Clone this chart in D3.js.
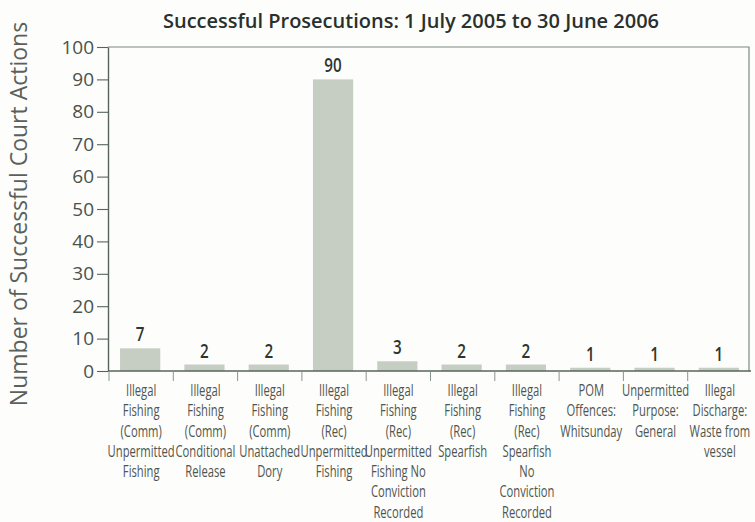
<!DOCTYPE html>
<html>
<head>
<meta charset="utf-8">
<script src="https://cdn.jsdelivr.net/npm/d3@7"></script>
<style>
  html, body { margin: 0; padding: 0; background: #fdfdfc; }
  svg { display: block; }
</style>
</head>
<body>
<svg id="chart" width="755" height="522"></svg>
<script>
// Prosecution categories (each label split into its display lines)
const categories = [
  ["Illegal", "Fishing", "(Comm)", "Unpermitted", "Fishing"],
  ["Illegal", "Fishing", "(Comm)", "Conditional", "Release"],
  ["Illegal", "Fishing", "(Comm)", "Unattached", "Dory"],
  ["Illegal", "Fishing", "(Rec)", "Unpermitted", "Fishing"],
  ["Illegal", "Fishing", "(Rec)", "Unpermitted", "Fishing No", "Conviction", "Recorded"],
  ["Illegal", "Fishing", "(Rec)", "Spearfish"],
  ["Illegal", "Fishing", "(Rec)", "Spearfish", "No", "Conviction", "Recorded"],
  ["POM", "Offences:", "Whitsunday"],
  ["Unpermitted", "Purpose:", "General"],
  ["Illegal", "Discharge:", "Waste from", "vessel"]
];
const counts = [7, 2, 2, 90, 3, 2, 2, 1, 1, 1];
const yTicks = [0, 10, 20, 30, 40, 50, 60, 70, 80, 90, 100];

const titleText = "Successful Prosecutions: 1 July 2005 to 30 June 2006";
const yTitleText = "Number of Successful Court Actions";

const svg = d3.select("#chart");
const plot = { left: 108, right: 751, top: 47, bottom: 371 };

const ids = d3.range(categories.length);
const x = d3.scaleBand().domain(ids).range([plot.left, plot.right])
  .paddingInner(0.375).paddingOuter(0.1875);
const xTick = d3.scaleBand().domain(ids).range([plot.left, plot.right]);
const y = d3.scaleLinear().domain([0, 100]).range([plot.bottom, plot.top]);

const axisColor = "#56645a";
const narrow = 0.66; // horizontal squeeze for the condensed label face

// plot frame (top and right edges)
svg.append("path")
  .attr("d", `M${plot.left},${plot.top}H${plot.right - 2}V${plot.bottom}`)
  .attr("fill", "none").attr("stroke", "#7d8a80").attr("stroke-width", 1.2);

// bars
svg.append("g").selectAll("rect").data(counts).join("rect")
  .attr("x", (d, i) => x(i))
  .attr("width", x.bandwidth())
  .attr("y", d => y(d))
  .attr("height", d => y(0) - y(d))
  .attr("fill", "#c6cec3");

// value labels
svg.append("g").selectAll("text").data(counts).join("text")
  .attr("transform", (d, i) =>
    `translate(${x(i) + x.bandwidth() / 2},${y(d) - 7}) scale(0.8,1)`)
  .attr("text-anchor", "middle")
  .attr("font-family", "'Open Sans', sans-serif")
  .attr("font-weight", 600)
  .attr("font-size", 19)
  .attr("fill", "#2e3530")
  .text(d => d);

// y axis
const yAxis = svg.append("g")
  .attr("transform", `translate(${plot.left},0)`)
  .call(d3.axisLeft(y).tickValues(yTicks).tickSize(11).tickPadding(3).tickSizeOuter(0));
yAxis.select(".domain").attr("stroke", axisColor).attr("stroke-width", 1.4);
yAxis.selectAll(".tick line").attr("stroke", axisColor).attr("stroke-width", 1.1);
yAxis.selectAll(".tick text")
  .attr("font-family", "'Open Sans', sans-serif")
  .attr("font-size", 19)
  .attr("fill", "#4a524b");

// x axis: baseline plus category divider ticks below it
const xAxis = svg.append("g")
  .attr("transform", `translate(0,${plot.bottom})`);
xAxis.append("line")
  .attr("x1", plot.left).attr("x2", plot.right)
  .attr("stroke", axisColor).attr("stroke-width", 1.6);
xAxis.selectAll("line.div").data(ids).join("line")
  .attr("class", "div")
  .attr("x1", i => xTick(i) + 1).attr("x2", i => xTick(i) + 1)
  .attr("y1", 0).attr("y2", 10)
  .attr("stroke", "#8a958c").attr("stroke-width", 1);

// category labels
const labels = svg.append("g").selectAll("text").data(categories).join("text")
  .attr("transform", (d, i) =>
    `translate(${xTick(i) + xTick.bandwidth() / 2 + 1},396) scale(${narrow},1)`)
  .attr("text-anchor", "middle")
  .attr("font-family", "'Open Sans', sans-serif")
  .attr("font-size", 17)
  .attr("fill", "#4e5650");
labels.selectAll("tspan").data(d => d).join("tspan")
  .attr("x", 0)
  .attr("dy", (d, j) => j === 0 ? 0 : 20.3)
  .text(d => d);

// title
svg.append("text")
  .attr("x", 411).attr("y", 28)
  .attr("text-anchor", "middle")
  .attr("font-family", "'Open Sans', sans-serif")
  .attr("font-weight", 600)
  .attr("font-size", 20)
  .attr("fill", "#2a302b")
  .text(titleText);

// y axis title
svg.append("text")
  .attr("transform", "translate(27,214) rotate(-90)")
  .attr("text-anchor", "middle")
  .attr("font-family", "'Open Sans', sans-serif")
  .attr("font-size", 23)
  .attr("fill", "#5a615b")
  .text(yTitleText);
</script>
</body>
</html>
